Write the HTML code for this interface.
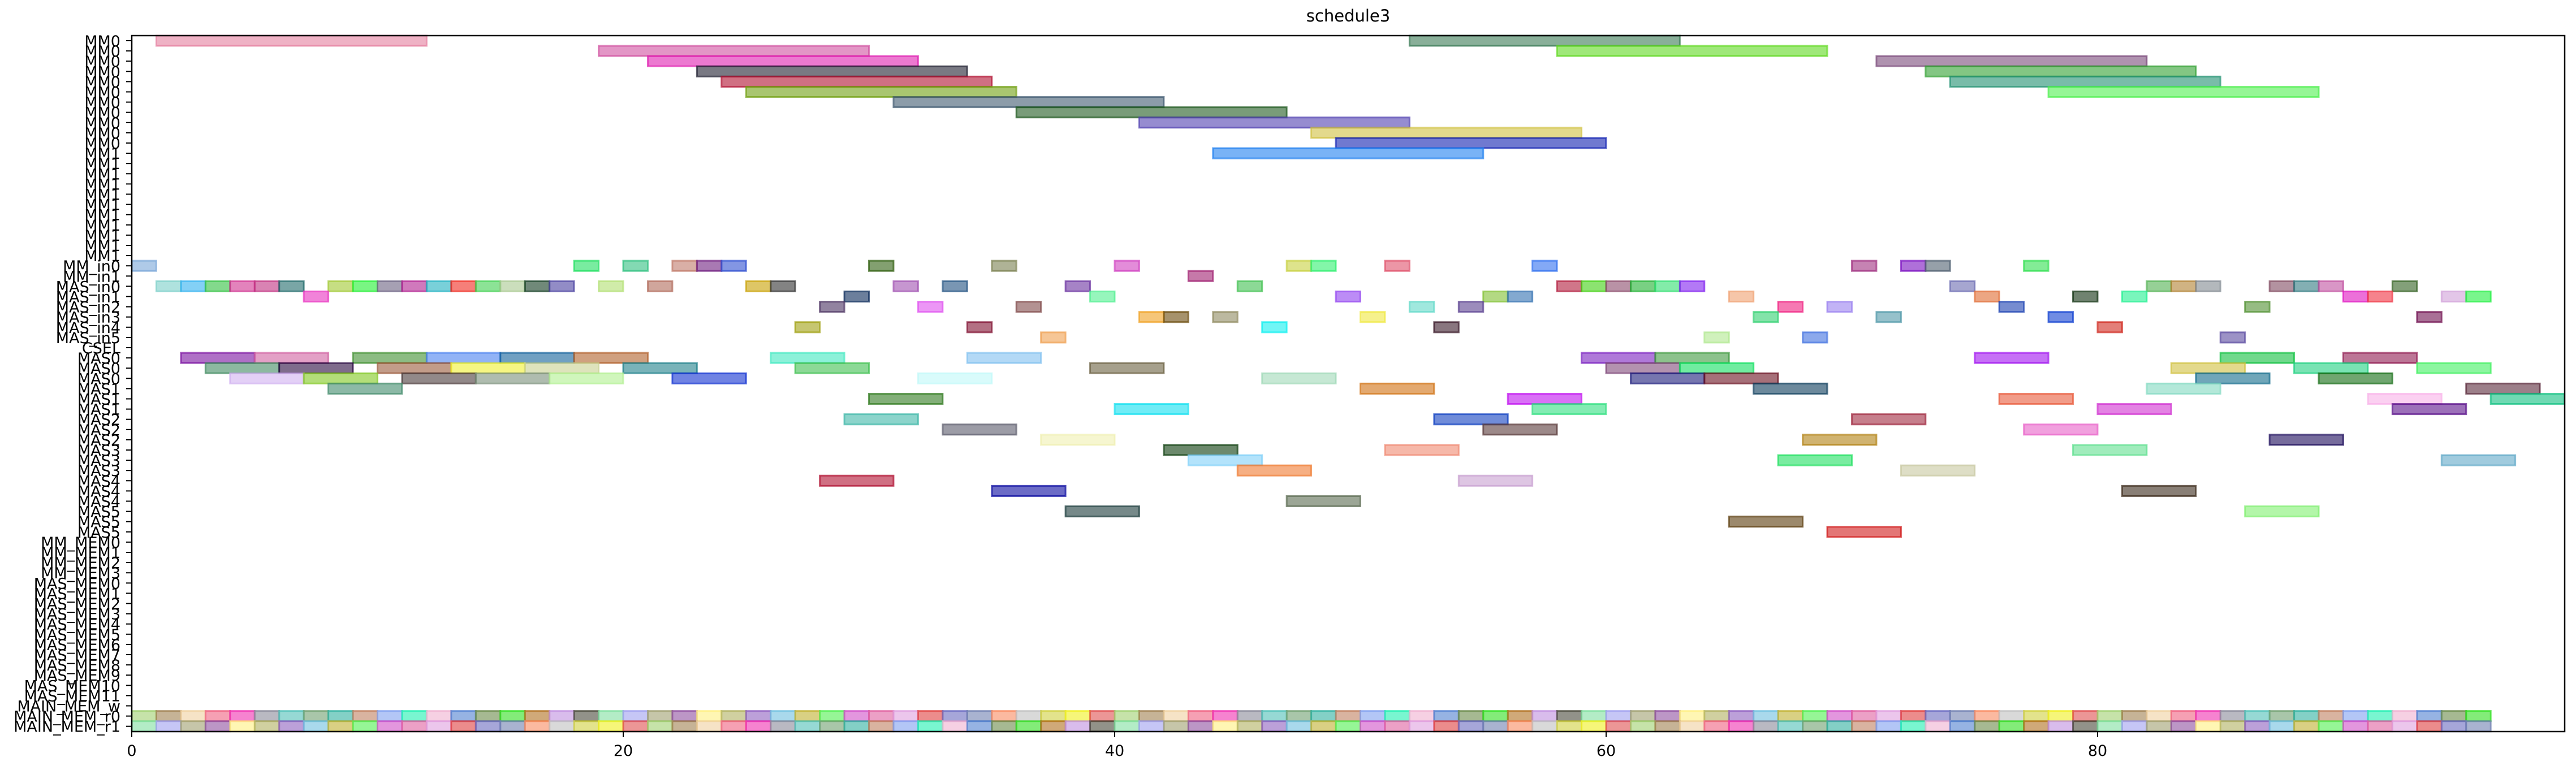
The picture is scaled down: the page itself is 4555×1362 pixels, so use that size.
<!DOCTYPE html>
<html><head><meta charset="utf-8"><style>
html,body{margin:0;padding:0;background:#fff;}
svg{display:block;font-family:"DejaVu Sans","Liberation Sans",sans-serif;}
</style></head>
<body>
<svg id="chart" width="4555" height="1362" viewBox="0 0 4555 1362" xmlns="http://www.w3.org/2000/svg">
<rect x="0" y="0" width="4555" height="1362" fill="#fff"/>
<text x="2384" y="38" text-anchor="middle" font-size="29">schedule3</text>
<g id="bars"></g>
<g id="yaxis"></g>
<g id="xaxis"></g>
<rect x="233" y="63" width="4302" height="1231" fill="none" stroke="#000" stroke-width="2.5"/>
</svg>
<script>
const rowLabels = [
"MM0","MM0","MM0","MM0","MM0","MM0","MM0","MM0","MM0","MM0","MM0",
"MM1","MM1","MM1","MM1","MM1","MM1","MM1","MM1","MM1","MM1","MM1",
"MM_in0","MM_in1","MAS_in0","MAS_in1","MAS_in2","MAS_in3","MAS_in4","MAS_in5","CSEL",
"MAS0","MAS0","MAS0","MAS1","MAS1","MAS1","MAS2","MAS2","MAS2","MAS3","MAS3","MAS3","MAS4","MAS4","MAS4","MAS5","MAS5","MAS5",
"MM_MEM0","MM_MEM1","MM_MEM2","MM_MEM3",
"MAS_MEM0","MAS_MEM1","MAS_MEM2","MAS_MEM3","MAS_MEM4","MAS_MEM5","MAS_MEM6","MAS_MEM7","MAS_MEM8","MAS_MEM9","MAS_MEM10","MAS_MEM11",
"MAIN_MEM_w","MAIN_MEM_r0","MAIN_MEM_r1"];
const xTicks = [0,20,40,60,80];
// [row, start, end]
const mmTasks = [[0,1,12],[0,52,63],[1,19,30],[1,58,69],[2,21,32],[2,71,82],[3,23,34],[3,73,84],[4,24,35],[4,74,85],[5,25,36],[5,78,89],[6,31,42],[7,36,47],[8,41,52],[9,48,59],[10,49,60],[11,44,55]];
const mmColors = ["#e57f9f","#3a7a55","#d050a0","#5fd820","#e020b0","#7a4a7a","#202030","#30a030","#b01030","#209070","#70a010","#50f050","#405a70","#1f5a1f","#5040b0","#d0c040","#1020b0","#2080f0"];
// single-unit input tasks: [row, start]
const inTasks = [
[22,0],[22,18],[22,20],[22,22],[22,23],[22,24],[22,30],[22,35],[22,40],[22,47],[22,48],[22,51],[22,57],[22,70],[22,72],[22,73],[22,77],
[23,43],
[24,1],[24,2],[24,3],[24,4],[24,5],[24,6],[24,8],[24,9],[24,10],[24,11],[24,12],[24,13],[24,14],[24,15],[24,16],[24,17],[24,19],[24,21],[24,25],[24,26],[24,31],[24,33],[24,38],[24,45],[24,58],[24,59],[24,60],[24,61],[24,62],[24,63],[24,74],[24,82],[24,83],[24,84],[24,87],[24,88],[24,89],[24,92],
[25,7],[25,29],[25,39],[25,49],[25,55],[25,56],[25,65],[25,75],[25,79],[25,81],[25,90],[25,91],[25,94],[25,95],
[26,28],[26,32],[26,36],[26,52],[26,54],[26,67],[26,69],[26,76],[26,86],
[27,41],[27,42],[27,44],[27,50],[27,66],[27,71],[27,78],[27,93],
[28,27],[28,34],[28,46],[28,53],[28,80],
[29,37],[29,64],[29,68],[29,85]];
const inColors = [
"#7aa6d8","#20e060","#30c080","#c07a6a","#702080","#3050d0","#306010","#7a8050","#d040c0","#c8d040","#30f070","#e0506a","#3070f0","#a03080","#7a10c0","#506070","#30e050",
"#a02070",
"#7acfc8","#30b0f0","#30c040","#d03090","#c03080","#206a6a","#a0c830","#20f030","#6a6080","#b02090","#20b0c0","#f02a20","#40d050","#a8c890","#103a20","#4a40a0","#b0e070","#b06a5a","#c8a000","#303030","#a050b0","#205080","#6a30a0","#40c050","#b01a3a","#40d010","#8a4a6a","#20b030","#30e070","#8020f0","#6a6ab0","#50b050","#b08030","#808890","#804a60","#307a80","#c050a0","#306020",
"#e830c0","#0a2a5a","#50f090","#9040f0","#80c030","#3070b0","#f0a070","#e06a30","#103010","#20f090","#e010c0","#f03040","#d0a0d8","#20f040",
"#4a3060","#e050f0","#804a4a","#60d8c8","#5a4090","#f02080","#9a80f0","#1a40b0","#509030",
"#f0a020","#6a4a0a","#908a60","#f0e840","#30d070","#5098a8","#1040d0","#701050",
"#a0a010","#801030","#10f0f0","#3a1a2a","#d02a20",
"#f0a050","#b0e890","#4070e0","#5a4aa0"];
// MAS tasks: [row, start, end]
const masTasks = [
[31,2,5],[31,5,8],[31,9,12],[31,12,15],[31,15,18],[31,18,21],[31,26,29],[31,34,37],[31,59,62],[31,62,65],[31,75,78],[31,85,88],[31,90,93],
[32,3,6],[32,6,9],[32,10,13],[32,13,16],[32,16,19],[32,20,23],[32,27,30],[32,39,42],[32,60,63],[32,63,66],[32,83,86],[32,88,91],[32,93,96],
[33,4,7],[33,7,10],[33,11,14],[33,14,17],[33,17,20],[33,22,25],[33,32,35],[33,46,49],[33,61,64],[33,64,67],[33,84,87],[33,89,92],
[34,8,11],[34,50,53],[34,66,69],[34,82,85],[34,95,98],
[35,30,33],[35,56,59],[35,76,79],[35,91,94],[35,96,99],
[36,40,43],[36,57,60],[36,80,83],[36,92,95],
[37,29,32],[37,53,56],[37,70,73],
[38,33,36],[38,55,58],[38,77,80],
[39,37,40],[39,68,71],[39,87,90],
[40,42,45],[40,51,54],[40,79,82],
[41,43,46],[41,67,70],[41,94,97],
[42,45,48],[42,72,75],
[43,28,31],[43,54,57],
[44,35,38],[44,81,84],
[45,47,50],
[46,38,41],[46,86,89],
[47,65,68],
[48,69,72]];
const masColors = [
"#7a10a0","#d060a0","#409030","#4a80f0","#10609a","#b0602a","#40e8c0","#80c0f0","#7a20c0","#409a40","#a010f0","#10c040","#901a50",
"#408a60","#2a0a40","#9a5a3a","#f0f030","#c8d090","#20808a","#40c050","#6a6040","#804a7a","#10e060","#d0c040","#20d080","#40f060",
"#d0b0f0","#80c820","#4a3a3a","#7a907a","#b0f090","#1030d0","#c0f8f8","#a0d8b8","#1a1a7a","#6a1020","#106a8a","#106a10",
"#408a6a","#d07010","#0a3a5a","#80d8c0","#5a2a3a",
"#307a20","#c010f0","#e85a3a","#f8b0e8","#10c080",
"#10e0f0","#30e080","#d030d0","#5a108a",
"#40b8a8","#1040c0","#a02a40",
"#5a5a6a","#5a3a3a","#e860c8",
"#f0f0b0","#b08010","#1a0a5a",
"#0a3a0a","#f08870","#60e090",
"#80d0f8","#20e060","#60a8c8",
"#f07a30","#c8c8a0",
"#b01030","#c8a0d0",
"#0a0aa0","#3a2a1a",
"#5a6a50",
"#1a3a3a","#80f070",
"#5a3a0a",
"#d01a1a"];
const memRows = [66,67];
const memSlots = 96;
const memPalette = ["#a0d070","#fff080","#50c0b8","#d050c8","#f0b0d0","#f88a60","#4a4a3a","#a08050","#b0b060","#70a070","#e060a0","#5080d0","#c0c0c0","#80e0a0","#f0d0a0","#9060c0","#30b0a0","#e0a0e0","#6a8a4a","#d0d040","#a0a0f0","#f06080","#70c0e0","#c08060",
"#e04040","#30e020","#f0f020","#a0a070","#f030b0","#c0b030","#80a0f0","#6a6ac0","#b07020","#e05050","#9050a0","#8a8a9a","#50f050","#20f0b0","#7080b0","#c090e0"];
</script>
<script>
const X0=233, XS=43.45, Y0=72, YS=18.1;
function xs(t){return X0+t*XS;}
function ys(r){return Y0+r*YS;}
const NS="http://www.w3.org/2000/svg";
const barsG=document.getElementById('bars');
function addBar(row,s,e,col,name){
  const r=document.createElementNS(NS,'rect');
  r.setAttribute('x',xs(s));
  r.setAttribute('y',ys(row)-YS/2);
  r.setAttribute('width',xs(e)-xs(s));
  r.setAttribute('height',YS);
  r.setAttribute('fill',col);
  r.setAttribute('fill-opacity','0.6');
  r.setAttribute('stroke',col);
  r.setAttribute('stroke-opacity','0.7');
  r.setAttribute('stroke-width','3');
  
  
  barsG.appendChild(r);
}
mmTasks.forEach((t,i)=>addBar(t[0],t[1],t[2],mmColors[i],'mm-task-bar'));
inTasks.forEach((t,i)=>addBar(t[0],t[1],t[1]+1,inColors[i],'input-task-bar'));
masTasks.forEach((t,i)=>addBar(t[0],t[1],t[2],masColors[i],'mas-task-bar'));
memRows.forEach((row,k)=>{
  for(let j=0;j<memSlots;j++){
    addBar(row,j,j+1,memPalette[(j*7+k*13)%memPalette.length],'main-mem-bar');
  }
});
const yG=document.getElementById('yaxis');
rowLabels.forEach((lab,i)=>{
  const y=ys(i);
  const l=document.createElementNS(NS,'line');
  l.setAttribute('x1',X0-10);l.setAttribute('x2',X0);
  l.setAttribute('y1',y);l.setAttribute('y2',y);
  l.setAttribute('stroke','#000');l.setAttribute('stroke-width','2');
  
  
  yG.appendChild(l);
  const t=document.createElementNS(NS,'text');
  t.setAttribute('x',X0-20);t.setAttribute('y',y+10);
  t.setAttribute('text-anchor','end');t.setAttribute('font-size','27');
  t.textContent=lab;
  
  
  yG.appendChild(t);
});
const xG=document.getElementById('xaxis');
xTicks.forEach(v=>{
  const x=xs(v);
  const l=document.createElementNS(NS,'line');
  l.setAttribute('x1',x);l.setAttribute('x2',x);
  l.setAttribute('y1',1294);l.setAttribute('y2',1304);
  l.setAttribute('stroke','#000');l.setAttribute('stroke-width','2');
  
  
  xG.appendChild(l);
  const t=document.createElementNS(NS,'text');
  t.setAttribute('x',x);t.setAttribute('y',1337);
  t.setAttribute('text-anchor','middle');t.setAttribute('font-size','27');
  t.textContent=String(v);
  
  
  xG.appendChild(t);
});
</script>
</body></html>
